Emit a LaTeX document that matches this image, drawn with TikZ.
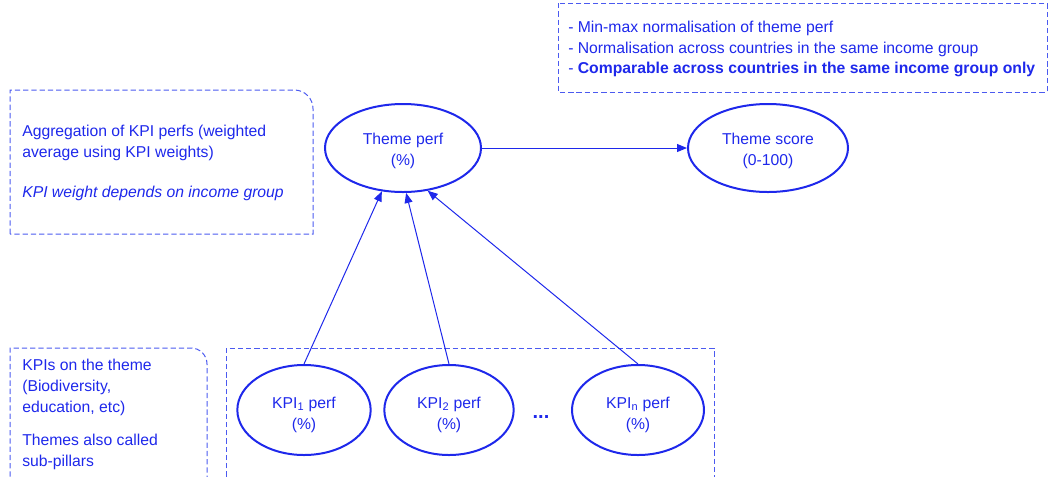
\documentclass[tikz,border=0pt]{standalone}
\usepackage{fontspec}
\setmainfont{Liberation Sans}
\usetikzlibrary{shapes.geometric,arrows.meta}
\definecolor{tblue}{RGB}{30,40,235}
\definecolor{lblue}{RGB}{75,90,240}
\begin{document}
\begin{tikzpicture}[x=0.75pt,y=-0.75pt,
  txt/.style={anchor=base west, inner sep=0pt, text=tblue, font=\fontsize{11.8}{15.4}\selectfont},
  note/.style={draw=lblue, line width=0.75pt, dash pattern=on 4pt off 2.2pt},
  ell/.style={ellipse, draw=tblue, line width=1.5pt, text=tblue, inner sep=0pt, align=center, font=\fontsize{11.8}{15.7}\selectfont},
  arr/.style={draw=tblue, line width=0.75pt, -{Triangle[length=7.5pt,width=6pt]}}]
\clip (0,0) rectangle (1050,476);
% note boxes
\draw[note] (558,3) rectangle (1047,92);
\draw[note] (10,234) -- (10,90) [rounded corners=14pt] -- (313,90) [sharp corners] -- (313,234) -- cycle;
\draw[note] (10,485) -- (10,348) [rounded corners=12pt] -- (207,348) [sharp corners] -- (207,485) -- cycle;
\draw[note] (226,485) -- (226,348) -- (714,348) -- (714,485);
% top right texts
\node[txt] (r1) at (568,32) {- Min-max normalisation of theme perf};
\node[txt] (r2) at (568,53) {- Normalisation across countries in the same income group};
\node[txt] (r3) at (568,73) {- \textbf{Comparable across countries in the same income group only}};
% top left texts
\node[txt] (l1) at (22,136) {Aggregation of KPI perfs (weighted};
\node[txt] (l2) at (22,157) {average using KPI weights)};
\node[txt] (l3) at (22,197) {\itshape KPI weight depends on income group};
% bottom left texts
\node[txt] (b1) at (22,370) {KPIs on the theme};
\node[txt] (b2) at (22,391) {(Biodiversity,};
\node[txt] (b3) at (22,412) {education, etc)};
\node[txt] (b4) at (22,445) {Themes also called};
\node[txt] (b5) at (22,466) {sub-pillars};
% ellipses
\node[ell, minimum width=117pt, minimum height=66pt] (tp) at (403,148) {\rule{0pt}{13pt}Theme perf\\(\%)};
\node[ell, minimum width=120pt, minimum height=66pt] (ts) at (768,148) {\rule{0pt}{13pt}Theme score\\(0-100)};
\node[ell, minimum width=100pt, minimum height=67.5pt] (k1) at (304,410) {\rule{0pt}{16pt}KPI\textsubscript{1} perf\\(\%)};
\node[ell, minimum width=97pt, minimum height=67.5pt] (k2) at (449,410) {\rule{0pt}{16pt}KPI\textsubscript{2} perf\\(\%)};
\node[ell, minimum width=99pt, minimum height=67.5pt] (kn) at (638,410) {\rule{0pt}{16pt}KPI\textsubscript{n} perf\\(\%)};
\node[text=tblue, font=\fontsize{15}{16}\selectfont\bfseries, anchor=base] (dots) at (541,418) {...};
% connectors
\draw[arr] (tp) -- (ts);
\draw[arr] (k1.north) -- (tp.244);
\draw[arr] (k2.north) -- (tp.274);
\draw[arr] (kn.north) -- (tp.300);
\end{tikzpicture}
\end{document}
